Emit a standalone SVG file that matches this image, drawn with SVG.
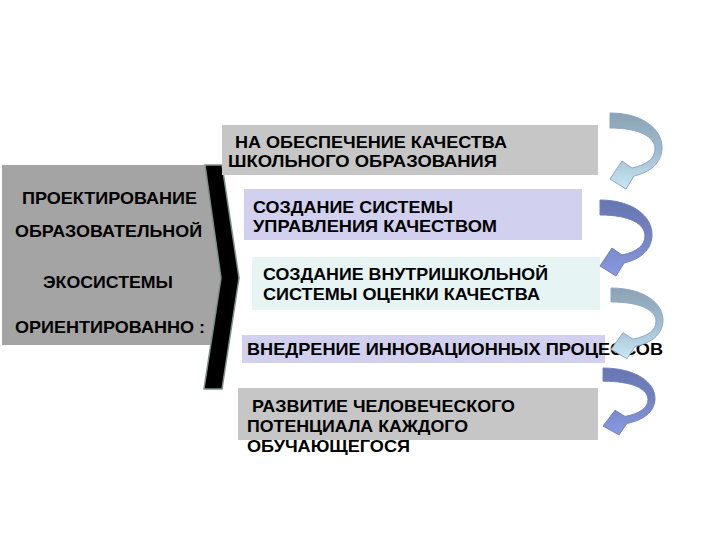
<svg xmlns="http://www.w3.org/2000/svg" width="720" height="540" viewBox="0 0 720 540">
<style>
text{font-family:"Liberation Sans",Arial,sans-serif;font-weight:bold;font-size:17px;fill:#000}
.arr{stroke-width:1;stroke-linejoin:round}
.a1{fill:url(#g1);stroke:#8ea2c8}
.a2{fill:url(#g2);stroke:#6f7fbc}
</style>
<defs>
<linearGradient id="g1" x1="0" y1="0" x2="0" y2="1">
<stop offset="0" stop-color="#8aa3b3"/>
<stop offset="0.5" stop-color="#9fbcd0"/>
<stop offset="1" stop-color="#cae8f2"/>
</linearGradient>
<linearGradient id="g2" x1="0" y1="0" x2="0" y2="1">
<stop offset="0" stop-color="#6576b0"/>
<stop offset="0.5" stop-color="#7484c4"/>
<stop offset="1" stop-color="#8a9ae2"/>
</linearGradient>
<path id="curl" d="M0,0 C32,0 53,16 52,36 C51,50 41,59 24,63 L16,76 L0,66 L12,48 L22,55 C37,52 45,45 45,36 C45,24 30,15 0,15 Z"/>
</defs>
<rect width="720" height="540" fill="#fff"/>

<g id="node-left">
<rect x="2" y="165" width="220" height="180" fill="#a4a4a4"/>
<text x="22" y="204" textLength="175" lengthAdjust="spacingAndGlyphs">ПРОЕКТИРОВАНИЕ</text>
<text x="15" y="237" textLength="187" lengthAdjust="spacingAndGlyphs">ОБРАЗОВАТЕЛЬНОЙ</text>
<text x="43" y="288" textLength="130" lengthAdjust="spacingAndGlyphs">ЭКОСИСТЕМЫ</text>
<text x="15" y="333" textLength="190" lengthAdjust="spacingAndGlyphs">ОРИЕНТИРОВАННО :</text>
</g>

<g id="node-chevron">
<polygon points="205,165 222,165 239,278 222,389 204,389 221,278" fill="#000" stroke="#7d9088" stroke-width="1.5"/>
</g>

<g id="node-1">
<rect x="222" y="125" width="376" height="50" fill="#c6c6c6"/>
<text x="235" y="148" textLength="272" lengthAdjust="spacingAndGlyphs">НА ОБЕСПЕЧЕНИЕ КАЧЕСТВА</text>
<text x="228" y="167" textLength="269" lengthAdjust="spacingAndGlyphs">ШКОЛЬНОГО ОБРАЗОВАНИЯ</text>
</g>

<g id="node-2">
<rect x="244" y="189" width="338" height="51" fill="#d1d1ef"/>
<text x="253" y="213" textLength="200" lengthAdjust="spacingAndGlyphs">СОЗДАНИЕ СИСТЕМЫ</text>
<text x="253" y="232" textLength="244" lengthAdjust="spacingAndGlyphs">УПРАВЛЕНИЯ КАЧЕСТВОМ</text>
</g>

<g id="node-3">
<rect x="252" y="257" width="348" height="53" fill="#e6f4f4"/>
<text x="263" y="280" textLength="285" lengthAdjust="spacingAndGlyphs">СОЗДАНИЕ ВНУТРИШКОЛЬНОЙ</text>
<text x="263" y="300" textLength="277" lengthAdjust="spacingAndGlyphs">СИСТЕМЫ ОЦЕНКИ КАЧЕСТВА</text>
</g>

<g id="node-4">
<rect x="242" y="335" width="363" height="28" fill="#d1d1ef"/>
<text x="247" y="355" textLength="416" lengthAdjust="spacingAndGlyphs">ВНЕДРЕНИЕ ИННОВАЦИОННЫХ ПРОЦЕССОВ</text>
</g>

<g id="node-5">
<rect x="238" y="388" width="360" height="52" fill="#c6c6c6"/>
<text x="252" y="412" textLength="263" lengthAdjust="spacingAndGlyphs">РАЗВИТИЕ ЧЕЛОВЕЧЕСКОГО</text>
<text x="247" y="432" textLength="221" lengthAdjust="spacingAndGlyphs">ПОТЕНЦИАЛА КАЖДОГО</text>
<text x="247" y="452" textLength="163" lengthAdjust="spacingAndGlyphs">ОБУЧАЮЩЕГОСЯ</text>
</g>

<g id="connectors">
<use href="#curl" class="arr a1" transform="translate(610,113)"/>
<use href="#curl" class="arr a2" transform="translate(600,200)"/>
<use href="#curl" class="arr a1" transform="translate(611,288) scale(1,0.93)"/>
<use href="#curl" class="arr a2" transform="translate(603,368) scale(1,0.88)"/>
</g>
</svg>
